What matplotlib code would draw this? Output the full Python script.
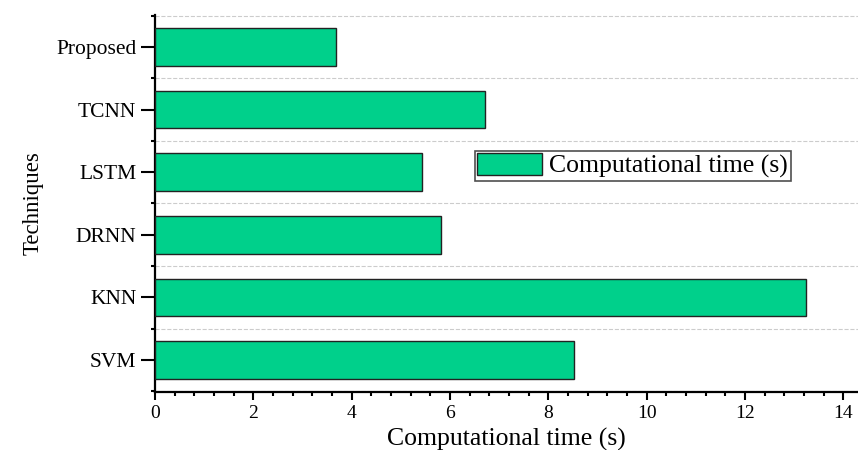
import matplotlib
matplotlib.use("Agg")
import matplotlib.pyplot as plt
import matplotlib.ticker as ticker
import numpy as np

techniques = ['SVM', 'KNN', 'DRNN', 'LSTM', 'TCNN', 'Proposed']
comp_time = [8.53, 13.25, 5.82, 5.43, 6.72, 3.68]

plt.rcParams['font.family'] = ['Liberation Serif', 'DejaVu Serif']

fig = plt.figure(figsize=(8.58, 4.5), dpi=100)
ax = fig.add_axes([0.1807, 0.1289, 0.8193, 0.8378])

y = np.arange(len(techniques))
ax.barh(y, comp_time, height=0.6, color='#00d08b', edgecolor='#222222',
        linewidth=1.0, label='Computational time (s)', zorder=3)

ax.set_xlim(0, 14.3)
ax.set_ylim(-0.51, 5.51)
ax.set_yticks(y)
ax.set_yticklabels(techniques, fontsize=15.5)
ax.yaxis.set_minor_locator(ticker.FixedLocator(np.arange(-0.5, 6, 1.0)))
ax.xaxis.set_major_locator(ticker.MultipleLocator(2))
ax.xaxis.set_minor_locator(ticker.MultipleLocator(0.4))
ax.tick_params(axis='x', labelsize=14, width=1.5, length=6, direction='out')
ax.tick_params(axis='x', which='minor', width=1.5, length=3, direction='out')
ax.tick_params(axis='y', which='major', width=1.5, length=10, direction='out')
ax.tick_params(axis='y', which='minor', width=1.5, length=3, direction='out')

ax.grid(axis='y', which='minor', color='#cccccc', linestyle='--', linewidth=0.8, zorder=0)

for s in ['top', 'right']:
    ax.spines[s].set_visible(False)
for s in ['left', 'bottom']:
    ax.spines[s].set_linewidth(1.6)

ax.set_xlabel('Computational time (s)', fontsize=18.5, labelpad=4)
ax.set_ylabel('Techniques', fontsize=16.5)
ax.yaxis.set_label_coords(-0.158, 0.5)

leg = ax.legend(loc='center left', bbox_to_anchor=(0.455, 0.6), fontsize=18.5,
                frameon=True, fancybox=False, edgecolor='#222222',
                handlelength=2.5, handleheight=0.9, borderpad=0.1,
                handletextpad=0.3, borderaxespad=0)
leg.get_frame().set_linewidth(1.2)

fig.savefig('out.png', dpi=100)
